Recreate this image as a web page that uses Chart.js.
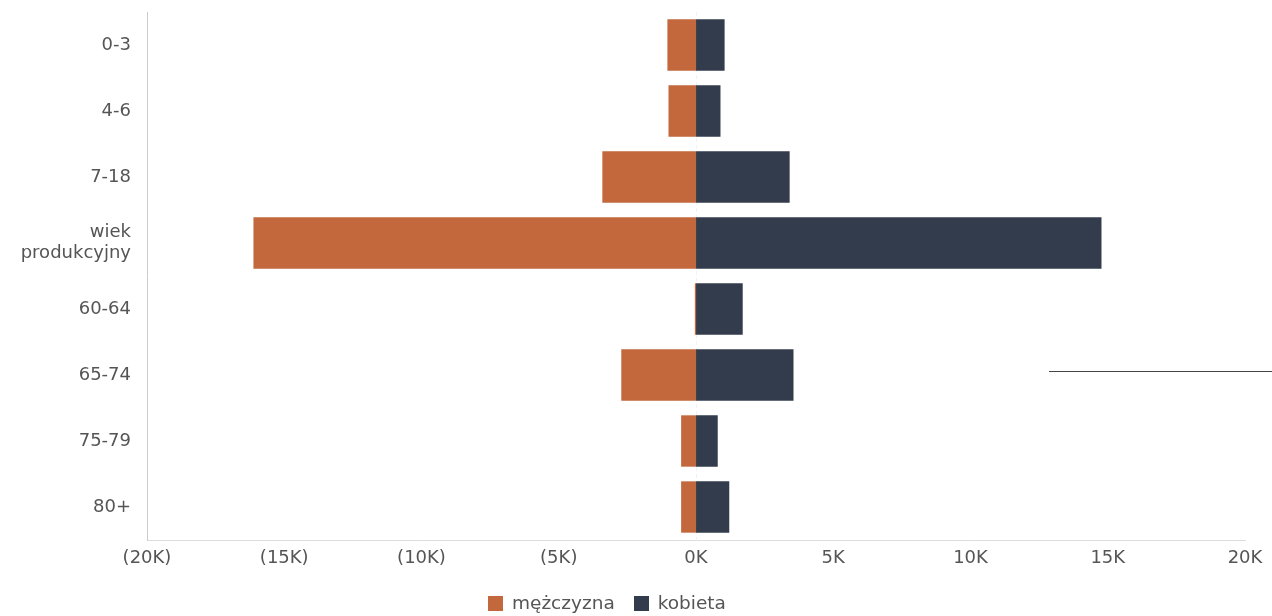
<!DOCTYPE html>
<html>
<head>
<meta charset="utf-8">
<script src="https://cdn.jsdelivr.net/npm/chart.js@4"></script>
<style>
  html, body { margin: 0; padding: 0; background: #fff; }
  .wrap { position: relative; width: 1272px; height: 616px; }
  #legend {
    position: absolute; left: 488px; top: 592px;
    font: 18.5px "DejaVu Sans", sans-serif; color: #555; line-height: 22px;
    display: flex; align-items: center; gap: 19px;
  }
  #legend span.box { display: inline-block; width: 15px; height: 15px; margin-right: 9px; vertical-align: -2px; }
</style>
</head>
<body>
<div class="wrap">
  <canvas id="chart" width="1272" height="616"></canvas>
  <div id="legend"></div>
</div>
<script>
// dane
const categories = ['0-3', '4-6', '7-18', ['wiek', 'produkcyjny'], '60-64', '65-74', '75-79', '80+'];
const men = [-1020, -980, -3390, -16100, -20, -2700, -520, -520];
const women = [1020, 870, 3390, 14750, 1680, 3530, 770, 1190];
const seriesNames = ['mężczyzna', 'kobieta'];
const seriesColors = ['#c2683c', '#323c4d'];

const tickFont = { family: '"DejaVu Sans", sans-serif', size: 18 };

// legenda w HTML
document.getElementById('legend').innerHTML = seriesNames
    .map((n, i) => `<div><span class="box" style="background:${seriesColors[i]}"></span>${n}</div>`)
    .join('');

// artefakt ze skanu
const strayLine = {
    id: 'strayLine',
    afterDraw(chart) {
        const ctx = chart.ctx;
        ctx.save();
        ctx.strokeStyle = '#444';
        ctx.lineWidth = 1;
        ctx.beginPath();
        ctx.moveTo(1049, 371.5);
        ctx.lineTo(1272, 371.5);
        ctx.stroke();
        ctx.restore();
    }
};

new Chart(document.getElementById('chart'), {
    type: 'bar',
    data: {
        labels: categories,
        datasets: [
            { label: seriesNames[0], data: men, backgroundColor: seriesColors[0], borderWidth: 0, inflateAmount: 0.6 },
            { label: seriesNames[1], data: women, backgroundColor: seriesColors[1], borderWidth: 0, inflateAmount: 0.6 }
        ]
    },
    options: {
        indexAxis: 'y',
        responsive: false,
        animation: false,
        categoryPercentage: 0.76,
        barPercentage: 1,
        layout: { padding: { top: 12, right: 27, bottom: 0, left: 0 } },
        plugins: { legend: { display: false }, tooltip: { enabled: false } },
        scales: {
            x: {
                stacked: true,
                min: -20000,
                max: 20000,
                afterFit: s => { s.height = 76; },
                ticks: {
                    stepSize: 5000,
                    padding: 8,
                    maxRotation: 0,
                    color: '#555',
                    font: tickFont,
                    callback: v => v < 0 ? '(' + Math.abs(v) / 1000 + 'K)' : v / 1000 + 'K'
                },
                grid: {
                    drawTicks: false,
                    color: ctx => ctx.tick && ctx.tick.value === 0 ? 'rgba(0,0,0,0.05)' : 'transparent'
                },
                border: { color: '#ddd', dash: [4, 3] }
            },
            y: {
                stacked: true,
                afterFit: s => {
                    s.width = 147;
                    s.paddingTop = 0;
                    s.paddingBottom = 0;
                },
                ticks: { padding: 16, color: '#555', font: tickFont },
                grid: { display: false, drawTicks: false },
                border: { color: '#ccc', dash: [4, 3] }
            }
        }
    },
    plugins: [strayLine]
});
</script>
</body>
</html>
